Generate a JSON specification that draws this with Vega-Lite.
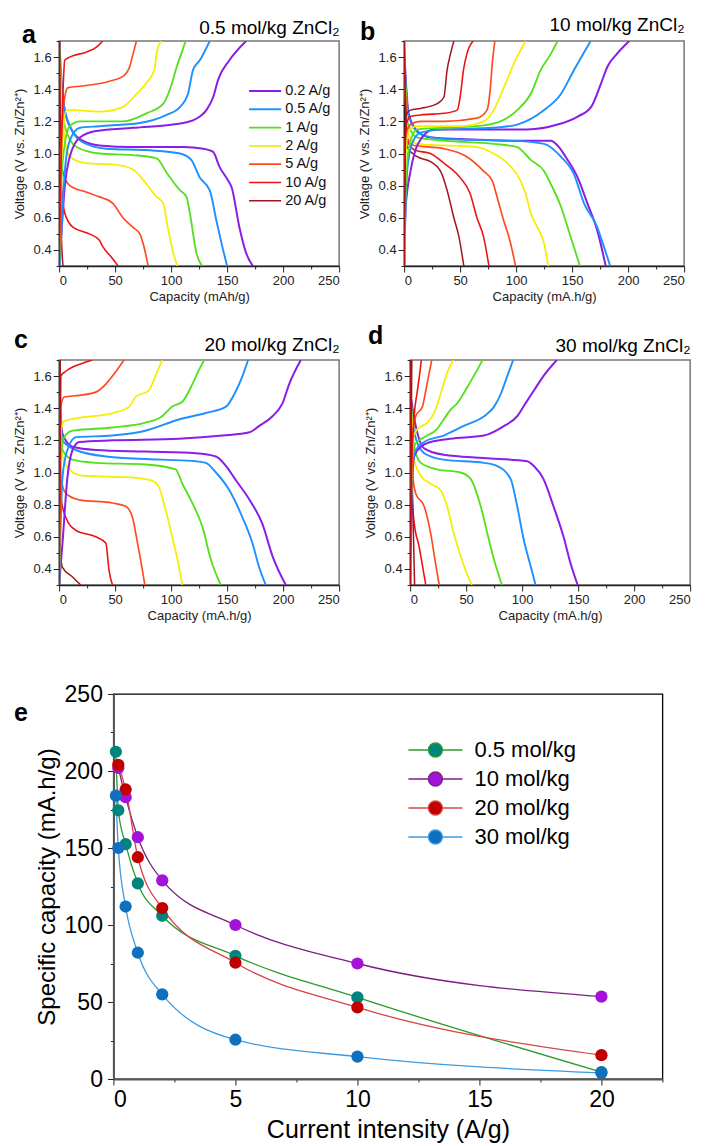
{
"$schema":"https://vega.github.io/schema/vega-lite/v6.json",
"background":"white",
"padding":{"left":12,"top":14,"right":0,"bottom":3},
"config":{"font":"Liberation Sans","axis":{"grid":false,"titleFontWeight":"normal","labelColor":"#222","titleColor":"#222","tickColor":"#222","domainColor":"#222"},"title":{"color":"#000"}},
"datasets":{
"pa":[
{"r":"0.2 A/g","s":"d","x":[0.5,5,11,21,36,66,111,128.6,137.5,143,151,154,161,167,173],"y":[1.55,1.27,1.15,1.08,1.05,1.04,1.04,1.03,1.01,0.92,0.83,0.79,0.54,0.38,0.3]},
{"r":"0.2 A/g","s":"c","x":[0,2,5,9.5,18.5,33,66,111,125.6,131.5,137.5,142,152,167],"y":[0.3,0.5,0.79,0.98,1.1,1.14,1.16,1.19,1.23,1.27,1.35,1.46,1.58,1.7]},
{"r":"0.5 A/g","s":"d","x":[0.6,3.6,9.5,21,42,81,108,118,125.6,134.5,140.5,146.4,150],"y":[1.64,1.33,1.17,1.07,1.03,1.02,1.0,0.96,0.85,0.77,0.58,0.4,0.3]},
{"r":"0.5 A/g","s":"c","x":[0.6,5,9.5,18.5,36,72,96,108,115,119.6,125.6,134.5],"y":[0.3,0.88,1.08,1.16,1.17,1.19,1.24,1.29,1.37,1.52,1.58,1.7]},
{"r":"1 A/g","s":"d","x":[0.3,1.2,5,15.5,36,66,87,96,108,113.7,116.7,122.6,127.7],"y":[1.65,1.5,1.17,1.04,1.0,0.99,0.97,0.88,0.77,0.73,0.63,0.38,0.3]},
{"r":"1 A/g","s":"c","x":[0,0.6,3.6,9.5,18.5,57,78,93,100,105,109,113],"y":[0.3,0.5,0.98,1.17,1.2,1.2,1.25,1.31,1.42,1.54,1.62,1.7]},
{"r":"2 A/g","s":"d","x":[0.6,3.6,9.5,24,51,66,78,87,93,97,102,105.6],"y":[1.54,1.17,0.98,0.94,0.93,0.9,0.81,0.73,0.69,0.54,0.38,0.3]},
{"r":"2 A/g","s":"c","x":[0,0.6,3,6.5,12.5,36,57,69,78,85,87,91],"y":[0.3,0.63,1.08,1.27,1.27,1.26,1.29,1.37,1.44,1.52,1.62,1.7]},
{"r":"5 A/g","s":"d","x":[0,0.6,3.6,9.5,24,36,48,57,66,72,75,79.5],"y":[1.7,1.02,0.88,0.8,0.76,0.73,0.69,0.6,0.54,0.5,0.44,0.3]},
{"r":"5 A/g","s":"c","x":[0,2,5,8,21,45,57,63,66,69],"y":[0.3,1.12,1.35,1.41,1.42,1.45,1.48,1.54,1.62,1.7]},
{"r":"10 A/g","s":"d","x":[0,2,5,12.5,27,36,39,46,52.7],"y":[1.7,0.81,0.63,0.54,0.5,0.46,0.42,0.36,0.3]},
{"r":"10 A/g","s":"c","x":[0,3.6,5,9.5,24,33,39],"y":[0.3,1.41,1.58,1.6,1.63,1.66,1.7]},
{"r":"20 A/g","s":"d","x":[0,1,2,3.5],"y":[1.7,1.0,0.5,0.3]},
{"r":"20 A/g","s":"c","x":[0,0.6],"y":[0.3,1.7]}
],
"pb":[
{"r":"0.2 A/g","s":"c","x":[0,1.2,5.7,10,16,26.5,65,110,137,155,167,175.5,181.5,190,201],"y":[0.3,0.65,0.89,1.02,1.1,1.15,1.15,1.15,1.18,1.23,1.29,1.43,1.54,1.62,1.7]},
{"r":"0.2 A/g","s":"d","x":[0,4,11.6,23.5,50,95,131,137,146,155,163.6,172.5,180],"y":[1.65,1.25,1.14,1.1,1.09,1.08,1.08,1.05,0.96,0.85,0.69,0.52,0.3]},
{"r":"0.5 A/g","s":"c","x":[0,2.7,7,14.6,35.5,80,101,125,140,151.7,166.6],"y":[0.3,0.89,1.06,1.13,1.15,1.16,1.18,1.27,1.37,1.52,1.7]},
{"r":"0.5 A/g","s":"d","x":[0,4,14.6,35.5,95,125,140,151.7,160.6,172.5,175.5,184],"y":[1.6,1.23,1.12,1.09,1.08,1.06,0.98,0.87,0.69,0.54,0.48,0.3]},
{"r":"1 A/g","s":"c","x":[0,2,5.7,11.6,35.5,65,86,101,113,122,131,137],"y":[0.3,0.89,1.08,1.15,1.16,1.17,1.2,1.27,1.37,1.52,1.62,1.7]},
{"r":"1 A/g","s":"d","x":[0,2.7,11.6,35.5,80,101,113,125,131,140,148.7,157],"y":[1.7,1.2,1.1,1.08,1.06,1.04,0.96,0.89,0.81,0.67,0.48,0.3]},
{"r":"2 A/g","s":"c","x":[0,1.5,4,11.6,50,71,80,89,98,108.5],"y":[0.3,1.0,1.14,1.17,1.17,1.2,1.27,1.41,1.56,1.7]},
{"r":"2 A/g","s":"d","x":[0,2.7,11.6,35.5,65,80,95,104,108.5,113,119,125,128.7],"y":[1.7,1.14,1.06,1.05,1.04,1.0,0.92,0.83,0.75,0.63,0.54,0.44,0.3]},
{"r":"5 A/g","s":"c","x":[0,1.2,5.7,14.6,35.5,65,74,77,78.7,81],"y":[0.3,1.1,1.18,1.2,1.2,1.22,1.27,1.41,1.56,1.7]},
{"r":"5 A/g","s":"d","x":[0,2.7,8.6,23.5,35.5,56,71,78.7,83,89,93.6,99.5],"y":[1.7,1.1,1.05,1.04,1.03,0.98,0.89,0.83,0.73,0.58,0.48,0.3]},
{"r":"10 A/g","s":"c","x":[0,1.2,5.7,14.6,35.5,47.4,50,53,56,61.7],"y":[0.3,1.16,1.23,1.24,1.25,1.27,1.35,1.52,1.62,1.7]},
{"r":"10 A/g","s":"d","x":[0,2.7,10,23.5,35.5,50,59,65,71,75.7],"y":[1.7,1.08,1.02,1.0,0.94,0.85,0.75,0.6,0.48,0.3]},
{"r":"20 A/g","s":"c","x":[0,1.2,5.7,14.6,29.5,35.5,38.4,41.4,44.4],"y":[0.3,1.23,1.27,1.28,1.31,1.35,1.52,1.62,1.7]},
{"r":"20 A/g","s":"d","x":[0,2.7,11.6,23.5,32.5,38.4,44.4,49,53.3],"y":[1.7,1.04,0.98,0.95,0.89,0.77,0.6,0.48,0.3]}
],
"pc":[
{"r":"0.2 A/g","s":"c","x":[0,3,7.4,12,18,47.6,107,146,170,178.6,190.5,199.4,205.4,215.8],"y":[0.3,0.56,0.97,1.14,1.19,1.2,1.21,1.23,1.25,1.29,1.35,1.43,1.55,1.7]},
{"r":"0.2 A/g","s":"d","x":[0,3,12,32.7,77,122,140,149,158,170,181.5,190.5,202.4],"y":[1.55,1.24,1.16,1.14,1.13,1.12,1.1,1.04,0.95,0.83,0.68,0.48,0.3]},
{"r":"0.5 A/g","s":"c","x":[0,3,7.4,15,47.6,77,107,131,149,158,163.7,168.75],"y":[0.3,0.97,1.14,1.22,1.23,1.26,1.33,1.37,1.41,1.51,1.6,1.7]},
{"r":"0.5 A/g","s":"d","x":[0,3,15,41.7,92,122,131,140,152,163.7,172.6,178.6,184.5],"y":[1.5,1.2,1.14,1.1,1.08,1.07,1.06,1.0,0.89,0.72,0.56,0.41,0.3]},
{"r":"1 A/g","s":"c","x":[0,1.5,4.5,12,47.6,77,92,101,110,119,125,129.5],"y":[0.3,1.08,1.22,1.26,1.28,1.31,1.35,1.41,1.44,1.55,1.64,1.7]},
{"r":"1 A/g","s":"d","x":[0,3,12,32.7,77,104,110,119,128,135.4,144.3],"y":[1.6,1.14,1.08,1.06,1.05,1.02,0.93,0.81,0.66,0.46,0.3]},
{"r":"2 A/g","s":"c","x":[0,1,4.5,18,47.6,62.5,68.4,80,86,92],"y":[0.3,1.22,1.32,1.34,1.37,1.41,1.47,1.51,1.6,1.7]},
{"r":"2 A/g","s":"d","x":[0,1.5,9,21,62.5,83,89,95,101,105.6,110],"y":[1.6,1.14,1.02,0.98,0.97,0.95,0.91,0.77,0.6,0.46,0.3]},
{"r":"5 A/g","s":"c","x":[0,1,4.5,18,32.7,41.7,47.6,58],"y":[0.3,1.39,1.47,1.48,1.5,1.55,1.6,1.7]},
{"r":"5 A/g","s":"d","x":[0,1.5,6,18,47.6,59.5,65.5,70,74.4,76.5],"y":[1.7,0.97,0.87,0.83,0.81,0.79,0.72,0.56,0.39,0.3]},
{"r":"10 A/g","s":"c","x":[0,1.5,6,21,29.8],"y":[0.3,1.6,1.63,1.68,1.7]},
{"r":"10 A/g","s":"d","x":[0,1.5,6,15,32.7,41.7,44.6,47.6],"y":[1.7,0.85,0.72,0.64,0.6,0.56,0.39,0.3]},
{"r":"20 A/g","s":"c","x":[0,1],"y":[0.3,1.7]},
{"r":"20 A/g","s":"d","x":[0,0.6,3,12,19.3],"y":[1.7,0.56,0.41,0.35,0.3]}
],
"pd":[
{"r":"0.2 A/g","s":"c","x":[0,1.2,3.6,9.5,18.4,36,66,84,95.6,103,110.5,119,131],"y":[0.3,0.79,1.1,1.16,1.19,1.21,1.23,1.29,1.35,1.43,1.51,1.6,1.7]},
{"r":"0.2 A/g","s":"d","x":[0,5,12.5,30,66,104.5,110.5,119,128,137,143,149.6],"y":[1.5,1.29,1.15,1.11,1.09,1.07,1.04,0.96,0.79,0.6,0.44,0.3]},
{"r":"0.5 A/g","s":"c","x":[0,1.5,5,12.5,30,48,66,75,81,86.7,92],"y":[0.3,1.0,1.14,1.19,1.23,1.29,1.35,1.41,1.49,1.6,1.7]},
{"r":"0.5 A/g","s":"d","x":[0,3.6,12.5,30,66,77.8,89.7,95.6,101.5,107.5,112],"y":[1.5,1.25,1.12,1.08,1.06,1.04,0.96,0.79,0.58,0.42,0.3]},
{"r":"1 A/g","s":"c","x":[0,2,5,12.5,24,30,36,42,51,60,64.7],"y":[0.3,1.1,1.18,1.22,1.27,1.33,1.39,1.43,1.53,1.64,1.7]},
{"r":"1 A/g","s":"d","x":[0,3.6,9.5,24,45,54,63,69,74.8,82],"y":[1.55,1.16,1.06,1.02,1.0,0.96,0.79,0.62,0.46,0.3]},
{"r":"2 A/g","s":"c","x":[0,2,6.5,15.4,21.4,27.3,33,38.6],"y":[0.3,1.2,1.27,1.31,1.37,1.49,1.62,1.7]},
{"r":"2 A/g","s":"d","x":[0,3.6,9.5,18.4,27.3,33,39,48,55],"y":[1.6,1.08,0.98,0.93,0.89,0.79,0.62,0.42,0.3]},
{"r":"5 A/g","s":"c","x":[0,2,5,11,14,17,19.3],"y":[0.3,1.2,1.35,1.41,1.51,1.62,1.7]},
{"r":"5 A/g","s":"d","x":[0,2,5,12.5,18.4,23,26],"y":[1.65,1.0,0.87,0.79,0.62,0.42,0.3]},
{"r":"10 A/g","s":"c","x":[0,1.2,3.6,6.5,9,10],"y":[0.3,1.0,1.35,1.51,1.64,1.7]},
{"r":"10 A/g","s":"d","x":[0,1.5,3.6,8,11,14],"y":[1.65,0.89,0.69,0.54,0.42,0.3]},
{"r":"20 A/g","s":"c","x":[0,1.5],"y":[0.3,1.7]},
{"r":"20 A/g","s":"d","x":[0,2,3,4],"y":[1.7,0.9,0.6,0.3]}
],
"pe":[
{"g":"0.5 mol/kg","x":0.1,"y":212.5},{"g":"0.5 mol/kg","x":0.2,"y":174.5},{"g":"0.5 mol/kg","x":0.5,"y":152.5},{"g":"0.5 mol/kg","x":1,"y":127},{"g":"0.5 mol/kg","x":2,"y":106},{"g":"0.5 mol/kg","x":5,"y":80},{"g":"0.5 mol/kg","x":10,"y":53},{"g":"0.5 mol/kg","x":20,"y":4.5},
{"g":"10 mol/kg","x":0.2,"y":202},{"g":"10 mol/kg","x":0.5,"y":183},{"g":"10 mol/kg","x":1,"y":157},{"g":"10 mol/kg","x":2,"y":129},{"g":"10 mol/kg","x":5,"y":100},{"g":"10 mol/kg","x":10,"y":75},{"g":"10 mol/kg","x":20,"y":53.5},
{"g":"20 mol/kg","x":0.2,"y":204},{"g":"20 mol/kg","x":0.5,"y":188},{"g":"20 mol/kg","x":1,"y":144},{"g":"20 mol/kg","x":2,"y":111},{"g":"20 mol/kg","x":5,"y":75.5},{"g":"20 mol/kg","x":10,"y":46.5},{"g":"20 mol/kg","x":20,"y":15.5},
{"g":"30 mol/kg","x":0.1,"y":184},{"g":"30 mol/kg","x":0.2,"y":150},{"g":"30 mol/kg","x":0.5,"y":112},{"g":"30 mol/kg","x":1,"y":82},{"g":"30 mol/kg","x":2,"y":55},{"g":"30 mol/kg","x":5,"y":25.5},{"g":"30 mol/kg","x":10,"y":14.5},{"g":"30 mol/kg","x":20,"y":4}
]
},
"vconcat":[
{"vconcat":[
{"hconcat":[
{"width":280,"height":225,"view":{"stroke":"#777","strokeWidth":1.5},
"title":{"text":"a","anchor":"start","frame":"bounds","fontSize":25,"fontWeight":"bold","dx":9,"dy":34},
"data":{"name":"pa"},"transform":[{"flatten":["x","y"]}],
"encoding":{
"y":{"field":"y","type":"quantitative","scale":{"domain":[0.3,1.7],"nice":false,"zero":false},"axis":{"values":[0.3,0.4,0.5,0.6,0.7,0.8,0.9,1.0,1.1,1.2,1.3,1.4,1.5,1.6,1.7],"labelExpr":"round(datum.value*10)%2==0 ? format(datum.value,'.1f') : ''","tickSize":{"condition":{"test":"round(datum.value*10)%2!=0","value":3},"value":6},"title":"Voltage (V vs. Zn/Zn²⁺)","labelFontSize":13,"titleFontSize":13,"labelPadding":2,"titlePadding":7,"domainWidth":1.5}},
"color":{"field":"r","type":"nominal","scale":{"domain":["0.2 A/g","0.5 A/g","1 A/g","2 A/g","5 A/g","10 A/g","20 A/g"],"range":["#8a1ee6","#1e90ff","#55e01e","#f5ee00","#ff4a20","#ee1212","#a0161c"]},"legend":{"orient":"none","legendX":196,"legendY":40,"title":null,"symbolType":"M-1.78,0L1.78,0","symbolSize":324,"symbolStrokeWidth":1.5,"labelFontSize":14.5,"labelOffset":10,"rowPadding":1.3,"labelColor":"#111"}},
"strokeWidth":{"field":"r","type":"nominal","scale":{"domain":["0.2 A/g","0.5 A/g","1 A/g","2 A/g","5 A/g","10 A/g","20 A/g"],"range":[2,1.5,1.3,1.3,1.3,1.3,1.3]},"legend":null}},
"layer":[
{"transform":[{"filter":"datum.s=='d'"}],"mark":{"type":"line","clip":true,"interpolate":"monotone"},"encoding":{"x":{"field":"x","type":"quantitative","scale":{"domain":[0,250],"nice":false},"axis":{"values":[0,25,50,75,100,125,150,175,200,225,250],"labelExpr":"datum.value % 50 == 0 ? datum.label : ''","tickSize":{"condition":{"test":"datum.value % 50 != 0","value":3},"value":6},"title":"Capacity (mAh/g)","labelFontSize":13,"titleFontSize":13,"labelPadding":2,"titlePadding":3,"domainWidth":1.5}}}},
{"transform":[{"filter":"datum.s=='c'"}],"mark":{"type":"line","clip":true,"interpolate":"monotone"},"encoding":{"x":{"field":"x","type":"quantitative","scale":{"domain":[0,250],"nice":false},"axis":{"orient":"top","labels":false,"ticks":false,"domain":false,"title":"0.5 mol/kg ZnCl₂","titleAnchor":"end","titleAlign":"right","titleFontSize":19,"titlePadding":4,"titleColor":"#000"}}}}
],
"resolve":{"axis":{"x":"independent"}}},
{"width":280,"height":225,"view":{"stroke":"#777","strokeWidth":1.5},
"title":{"text":"b","anchor":"start","frame":"bounds","fontSize":25,"fontWeight":"bold","dx":2,"dy":34},
"data":{"name":"pb"},"transform":[{"flatten":["x","y"]}],
"encoding":{
"y":{"field":"y","type":"quantitative","scale":{"domain":[0.3,1.7],"nice":false,"zero":false},"axis":{"values":[0.3,0.4,0.5,0.6,0.7,0.8,0.9,1.0,1.1,1.2,1.3,1.4,1.5,1.6,1.7],"labelExpr":"round(datum.value*10)%2==0 ? format(datum.value,'.1f') : ''","tickSize":{"condition":{"test":"round(datum.value*10)%2!=0","value":3},"value":6},"title":"Voltage (V vs. Zn/Zn²⁺)","labelFontSize":13,"titleFontSize":13,"labelPadding":2,"titlePadding":7,"domainWidth":1.5}},
"color":{"field":"r","type":"nominal","scale":{"domain":["0.2 A/g","0.5 A/g","1 A/g","2 A/g","5 A/g","10 A/g","20 A/g"],"range":["#8a1ee6","#1e90ff","#55e01e","#f5ee00","#ff4a20","#ee1212","#a0161c"]},"legend":null},
"strokeWidth":{"field":"r","type":"nominal","scale":{"domain":["0.2 A/g","0.5 A/g","1 A/g","2 A/g","5 A/g","10 A/g","20 A/g"],"range":[2,1.5,1.3,1.3,1.3,1.3,1.3]},"legend":null}},
"layer":[
{"transform":[{"filter":"datum.s=='d'"}],"mark":{"type":"line","clip":true,"interpolate":"monotone"},"encoding":{"x":{"field":"x","type":"quantitative","scale":{"domain":[0,250],"nice":false},"axis":{"values":[0,25,50,75,100,125,150,175,200,225,250],"labelExpr":"datum.value % 50 == 0 ? datum.label : ''","tickSize":{"condition":{"test":"datum.value % 50 != 0","value":3},"value":6},"title":"Capacity (mA.h/g)","labelFontSize":13,"titleFontSize":13,"labelPadding":2,"titlePadding":3,"domainWidth":1.5}}}},
{"transform":[{"filter":"datum.s=='c'"}],"mark":{"type":"line","clip":true,"interpolate":"monotone"},"encoding":{"x":{"field":"x","type":"quantitative","scale":{"domain":[0,250],"nice":false},"axis":{"orient":"top","labels":false,"ticks":false,"domain":false,"title":"10 mol/kg ZnCl₂","titleAnchor":"end","titleAlign":"right","titleFontSize":19,"titlePadding":7,"titleColor":"#000"}}}}
],
"resolve":{"axis":{"x":"independent"}}}
],"spacing":16,"resolve":{"scale":{"color":"independent","strokeWidth":"independent"}}},
{"hconcat":[
{"width":280,"height":225,"view":{"stroke":"#777","strokeWidth":1.5},
"title":{"text":"c","anchor":"start","frame":"bounds","fontSize":25,"fontWeight":"bold","dx":1,"dy":22},
"data":{"name":"pc"},"transform":[{"flatten":["x","y"]}],
"encoding":{
"y":{"field":"y","type":"quantitative","scale":{"domain":[0.3,1.7],"nice":false,"zero":false},"axis":{"values":[0.3,0.4,0.5,0.6,0.7,0.8,0.9,1.0,1.1,1.2,1.3,1.4,1.5,1.6,1.7],"labelExpr":"round(datum.value*10)%2==0 ? format(datum.value,'.1f') : ''","tickSize":{"condition":{"test":"round(datum.value*10)%2!=0","value":3},"value":6},"title":"Voltage (V vs. Zn/Zn²⁺)","labelFontSize":13,"titleFontSize":13,"labelPadding":2,"titlePadding":7,"domainWidth":1.5}},
"color":{"field":"r","type":"nominal","scale":{"domain":["0.2 A/g","0.5 A/g","1 A/g","2 A/g","5 A/g","10 A/g","20 A/g"],"range":["#8a1ee6","#1e90ff","#55e01e","#f5ee00","#ff4a20","#ee1212","#a0161c"]},"legend":null},
"strokeWidth":{"field":"r","type":"nominal","scale":{"domain":["0.2 A/g","0.5 A/g","1 A/g","2 A/g","5 A/g","10 A/g","20 A/g"],"range":[2,1.5,1.3,1.3,1.3,1.3,1.3]},"legend":null}},
"layer":[
{"transform":[{"filter":"datum.s=='d'"}],"mark":{"type":"line","clip":true,"interpolate":"monotone"},"encoding":{"x":{"field":"x","type":"quantitative","scale":{"domain":[0,250],"nice":false},"axis":{"values":[0,25,50,75,100,125,150,175,200,225,250],"labelExpr":"datum.value % 50 == 0 ? datum.label : ''","tickSize":{"condition":{"test":"datum.value % 50 != 0","value":3},"value":6},"title":"Capacity (mA.h/g)","labelFontSize":13,"titleFontSize":13,"labelPadding":2,"titlePadding":3,"domainWidth":1.5}}}},
{"transform":[{"filter":"datum.s=='c'"}],"mark":{"type":"line","clip":true,"interpolate":"monotone"},"encoding":{"x":{"field":"x","type":"quantitative","scale":{"domain":[0,250],"nice":false},"axis":{"orient":"top","labels":false,"ticks":false,"domain":false,"title":"20 mol/kg ZnCl₂","titleAnchor":"end","titleAlign":"right","titleFontSize":19,"titlePadding":6,"titleColor":"#000"}}}}
],
"resolve":{"axis":{"x":"independent"}}},
{"width":280,"height":225,"view":{"stroke":"#777","strokeWidth":1.5},
"title":{"text":"d","anchor":"start","frame":"bounds","fontSize":25,"fontWeight":"bold","dx":4,"dy":17},
"data":{"name":"pd"},"transform":[{"flatten":["x","y"]}],
"encoding":{
"y":{"field":"y","type":"quantitative","scale":{"domain":[0.3,1.7],"nice":false,"zero":false},"axis":{"values":[0.3,0.4,0.5,0.6,0.7,0.8,0.9,1.0,1.1,1.2,1.3,1.4,1.5,1.6,1.7],"labelExpr":"round(datum.value*10)%2==0 ? format(datum.value,'.1f') : ''","tickSize":{"condition":{"test":"round(datum.value*10)%2!=0","value":3},"value":6},"title":"Voltage (V vs. Zn/Zn²⁺)","labelFontSize":13,"titleFontSize":13,"labelPadding":2,"titlePadding":7,"domainWidth":1.5}},
"color":{"field":"r","type":"nominal","scale":{"domain":["0.2 A/g","0.5 A/g","1 A/g","2 A/g","5 A/g","10 A/g","20 A/g"],"range":["#8a1ee6","#1e90ff","#55e01e","#f5ee00","#ff4a20","#ee1212","#a0161c"]},"legend":null},
"strokeWidth":{"field":"r","type":"nominal","scale":{"domain":["0.2 A/g","0.5 A/g","1 A/g","2 A/g","5 A/g","10 A/g","20 A/g"],"range":[2,1.5,1.3,1.3,1.3,1.3,1.3]},"legend":null}},
"layer":[
{"transform":[{"filter":"datum.s=='d'"}],"mark":{"type":"line","clip":true,"interpolate":"monotone"},"encoding":{"x":{"field":"x","type":"quantitative","scale":{"domain":[0,250],"nice":false},"axis":{"values":[0,25,50,75,100,125,150,175,200,225,250],"labelExpr":"datum.value % 50 == 0 ? datum.label : ''","tickSize":{"condition":{"test":"datum.value % 50 != 0","value":3},"value":6},"title":"Capacity (mA.h/g)","labelFontSize":13,"titleFontSize":13,"labelPadding":2,"titlePadding":3,"domainWidth":1.5}}}},
{"transform":[{"filter":"datum.s=='c'"}],"mark":{"type":"line","clip":true,"interpolate":"monotone"},"encoding":{
"y":{"field":"y","type":"quantitative","scale":{"domain":[0.3,1.7],"nice":false,"zero":false},"axis":{"orient":"right","labels":false,"ticks":false,"domain":false,"grid":false,"title":" ","titleFontSize":1,"titlePadding":2,"minExtent":24}},
"x":{"field":"x","type":"quantitative","scale":{"domain":[0,250],"nice":false},"axis":{"orient":"top","labels":false,"ticks":false,"domain":false,"title":"30 mol/kg ZnCl₂","titleAnchor":"end","titleAlign":"right","titleFontSize":19,"titlePadding":5,"titleColor":"#000"}}}}
],
"resolve":{"axis":{"x":"independent","y":"independent"}}}
],"spacing":22,"resolve":{"scale":{"color":"independent","strokeWidth":"independent"}}}
],"spacing":19,"resolve":{"scale":{"color":"independent","strokeWidth":"independent"}}},
{"width":549,"height":385,"view":{"stroke":"#000","strokeWidth":1.3},
"title":{"text":"e","anchor":"start","frame":"bounds","fontSize":25,"fontWeight":"bold","dx":-21,"dy":47},
"data":{"name":"pe"},
"encoding":{
"x":{"field":"x","type":"quantitative","scale":{"domain":[0,22.5],"nice":false},"axis":{"values":[0,2.5,5,7.5,10,12.5,15,17.5,20,22.5],"labelExpr":"datum.value % 5 == 0 ? datum.label : ''","tickSize":{"condition":{"test":"datum.value % 5 != 0","value":3},"value":6},"title":"Current intensity (A/g)","labelFontSize":23,"titleFontSize":25,"labelPadding":3,"titlePadding":6,"domainColor":"#555","domainWidth":2,"labelColor":"#000","titleColor":"#000"}},
"y":{"field":"y","type":"quantitative","scale":{"domain":[0,250],"nice":false},"axis":{"values":[0,25,50,75,100,125,150,175,200,225,250],"labelExpr":"datum.value % 50 == 0 ? datum.label : ''","tickSize":{"condition":{"test":"datum.value % 50 != 0","value":3},"value":6},"title":"Specific capacity (mA.h/g)","labelFontSize":23,"titleFontSize":24,"labelPadding":5,"titlePadding":5,"domainColor":"#555","domainWidth":2,"labelColor":"#000","titleColor":"#000"}}},
"layer":[
{"mark":{"type":"line","interpolate":"monotone","strokeWidth":1.3},"encoding":{"stroke":{"field":"g","type":"nominal","scale":{"domain":["0.5 mol/kg","10 mol/kg","20 mol/kg","30 mol/kg"],"range":["#2c9a2c","#7a1f82","#d64545","#3d9ae0"]},"legend":{"orient":"none","legendX":311,"legendY":45,"title":null,"symbolType":"M-3.86,0L-1,0M1,0L3.86,0M1,0A1,1,0,1,1,-1,0A1,1,0,1,1,1,0Z","symbolSize":196,"symbolStrokeWidth":1.3,"labelFontSize":22,"labelOffset":28,"rowPadding":7,"labelColor":"#000"}}}},
{"mark":{"type":"point","filled":true,"opacity":1,"size":150},"encoding":{"fill":{"field":"g","type":"nominal","scale":{"domain":["0.5 mol/kg","10 mol/kg","20 mol/kg","30 mol/kg"],"range":["#00857d","#a412d8","#c00000","#1070c0"]},"legend":{"orient":"none","legendX":311,"legendY":45,"title":null,"symbolType":"M-3.86,0L-1,0M1,0L3.86,0M1,0A1,1,0,1,1,-1,0A1,1,0,1,1,1,0Z","symbolSize":196,"symbolStrokeWidth":1.3,"labelFontSize":22,"labelOffset":28,"rowPadding":7,"labelColor":"#000"}}}}
]}
],
"spacing":59,
"center":true,
"resolve":{"scale":{"color":"independent","strokeWidth":"independent","fill":"independent","stroke":"independent"}}
}
